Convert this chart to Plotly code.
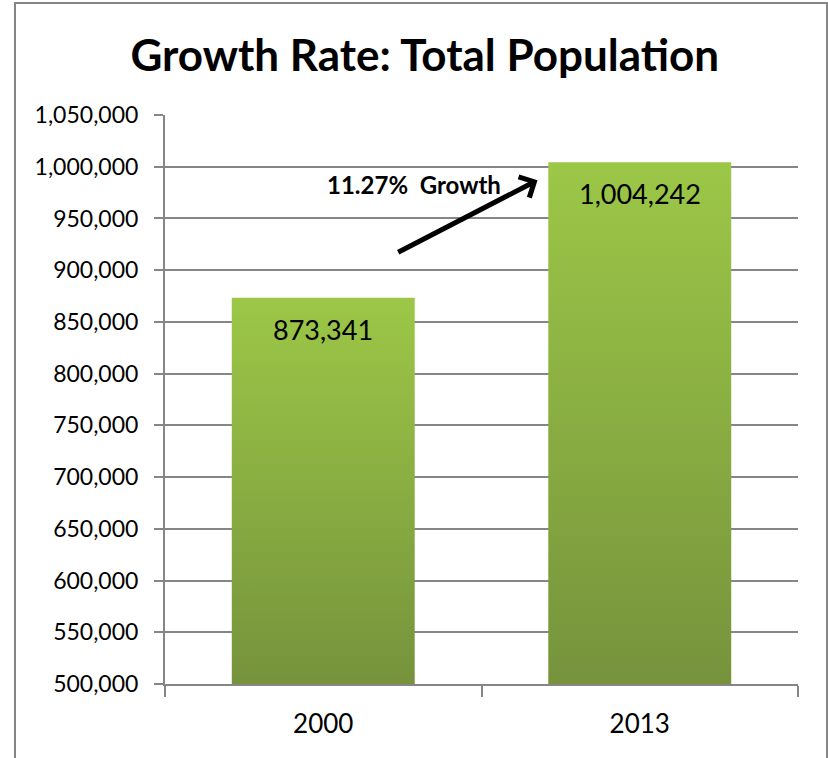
import plotly.graph_objects as go

# ---- data ----
years = ["2000", "2013"]
population = [873341, 1004242]
growth_label = "11.27%  Growth"
title_text = "Growth Rate: Total Population"

# ---- axis settings ----
Y_MIN, Y_MAX, Y_STEP = 500000, 1050000, 50000
BAR_WIDTH = 0.578
GRID = "#868686"
FONT = "Lato, 'Open Sans', sans-serif"

positions = list(range(len(years)))

fig = go.Figure()

# gradient-filled bars (one polygon per bar, built from the data values)
for i, v in zip(positions, population):
    x0, x1 = i - BAR_WIDTH / 2, i + BAR_WIDTH / 2
    fig.add_trace(go.Scatter(
        x=[x0, x1, x1, x0, x0],
        y=[Y_MIN, Y_MIN, v, v, Y_MIN],
        mode="lines", fill="toself", line=dict(width=0, color="rgba(0,0,0,0)"),
        fillgradient=dict(type="vertical",
                          colorscale=[[0, "#76933C"], [1, "#9CC747"]]),
        hoverinfo="skip", showlegend=False,
    ))

annotations = []
for i, v in zip(positions, population):
    annotations.append(dict(
        x=i, y=v, xref="x", yref="y", text=f"{v:,}", showarrow=False,
        yanchor="top", yshift=-13, font=dict(family=FONT, size=27, color="black"),
    ))

# growth text + arrow
annotations.append(dict(
    x=0.568, y=982600, xref="x", yref="y", text=f"<b>{growth_label}</b>",
    showarrow=False, xanchor="right", yanchor="middle",
    font=dict(family=FONT, size=24, color="black"),
))
annotations.append(dict(
    x=0.677, y=987000, xref="x", yref="y", ax=0.232, ay=916500,
    axref="x", ayref="y", text="", showarrow=True, arrowhead=4,
    arrowsize=0.9, arrowwidth=5, arrowcolor="black", standoff=0,
))

fig.update_layout(
    width=828, height=758,
    margin=dict(l=165, r=30, t=115, b=74, autoexpand=False),
    paper_bgcolor="white", plot_bgcolor="white",
    title=dict(text=f"<b>{title_text}</b>", x=0.513, xanchor="center",
               y=1 - 56 / 758, yanchor="middle",
               font=dict(family=FONT, size=44, color="black")),
    xaxis=dict(range=[-0.5, 1.5], tickvals=positions, ticktext=years,
               ticks="", showgrid=False, zeroline=False,
               showline=True, linecolor=GRID, linewidth=2,
               ticklabelstandoff=16,
               minor=dict(tickvals=[-0.5, 0.5, 1.5], ticks="outside",
                          ticklen=11, tickwidth=2, tickcolor=GRID, showgrid=False),
               tickfont=dict(family=FONT, size=26, color="black"), fixedrange=True),
    yaxis=dict(range=[Y_MIN, Y_MAX], dtick=Y_STEP, tick0=Y_MIN, tickformat=",",
               showgrid=True, gridcolor=GRID, gridwidth=2, zeroline=False,
               showline=True, linecolor=GRID, linewidth=2,
               ticks="outside", ticklen=9, tickwidth=2, tickcolor=GRID,
               ticklabelstandoff=11, fixedrange=True,
               tickfont=dict(family=FONT, size=23, color="black")),
    annotations=annotations,
    shapes=[dict(type="rect", xref="paper", yref="paper",
                 x0=(15 - 165) / 633, x1=(827 - 165) / 633,
                 y0=-0.2, y1=(684 - 3) / 569,
                 line=dict(color=GRID, width=2), fillcolor="rgba(0,0,0,0)",
                 layer="above")],
)

fig.write_html(
    "out.html",
    config={"displayModeBar": False},
    post_script="document.body.style.margin='0';document.body.style.overflow='hidden';",
)
